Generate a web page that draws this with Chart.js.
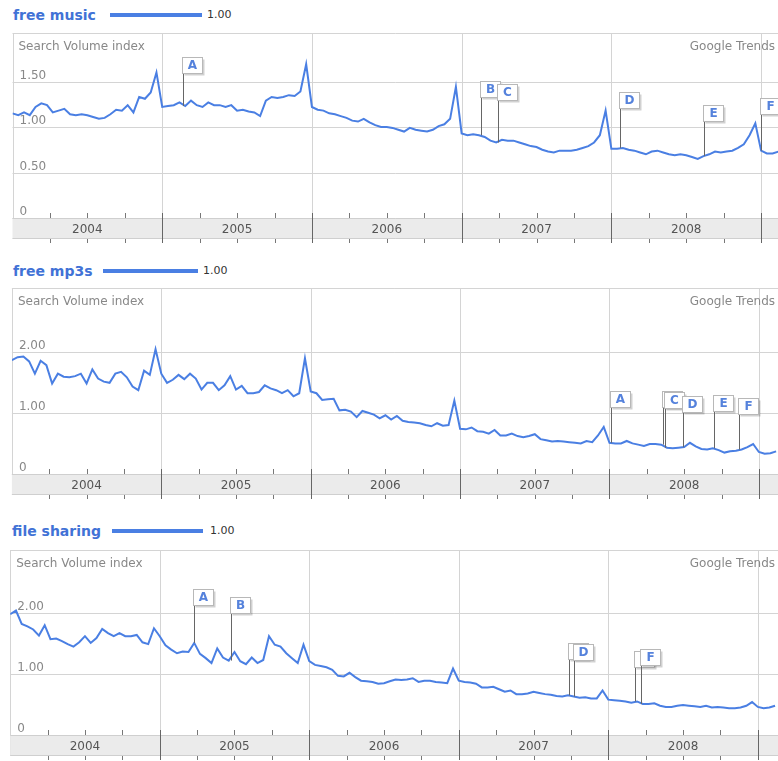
<!DOCTYPE html>
<html>
<head>
<meta charset="utf-8">
<script src="https://cdn.jsdelivr.net/npm/chart.js@4"></script>
<style>
  body { margin: 0; background: #fff; overflow: hidden; width: 778px; height: 761px; position: relative; }
  canvas { position: absolute; left: 0; }
  .title { position: absolute; font: bold 14px "DejaVu Sans", sans-serif; color: #4172d6; line-height: 16px; }
  .key { position: absolute; height: 4px; background: #4a7fe3; }
  .val { position: absolute; font: 11px "DejaVu Sans", sans-serif; color: #333; line-height: 12px; }
</style>
</head>
<body>
<div class="title" style="left:13px;top:7px">free music</div>
<div class="key" style="left:110px;top:13px;width:92px"></div>
<div class="val" style="left:207px;top:9px">1.00</div>
<canvas id="chart-music" width="778" height="214" style="top:31px"></canvas>

<div class="title" style="left:13px;top:263px">free mp3s</div>
<div class="key" style="left:103px;top:269px;width:95px"></div>
<div class="val" style="left:203px;top:265px">1.00</div>
<canvas id="chart-mp3s" width="778" height="215" style="top:286px"></canvas>

<div class="title" style="left:12px;top:523px">file sharing</div>
<div class="key" style="left:112px;top:529px;width:91px"></div>
<div class="val" style="left:210px;top:525px">1.00</div>
<canvas id="chart-sharing" width="778" height="214" style="top:548px"></canvas>

<script>
// Sample dates: one value every two weeks from Jan 2004
var sampleYears = [];
for (var i = 0; i < 134; i++) {
  sampleYears.push(2004 + i / 26);
}

var yearLabels = ["2004", "2005", "2006", "2007", "2008", "2009"];

// Search volume index
var freeMusic = [
  1.15, 1.13, 1.16, 1.13, 1.22, 1.26, 1.24, 1.16, 1.18, 1.20, 1.14, 1.13, 1.14, 1.13, 1.11, 1.09, 1.10, 1.14, 1.19, 1.18, 1.24, 1.16, 1.33, 1.31, 1.38, 1.60,
  1.22, 1.23, 1.24, 1.27, 1.23, 1.29, 1.24, 1.22, 1.27, 1.24, 1.24, 1.22, 1.24, 1.18, 1.19, 1.17, 1.16, 1.12, 1.29, 1.33, 1.32, 1.33, 1.35, 1.34, 1.39, 1.69,
  1.22, 1.19, 1.18, 1.15, 1.14, 1.12, 1.10, 1.07, 1.06, 1.09, 1.05, 1.02, 1.00, 1.00, 0.99, 0.97, 0.95, 0.99, 0.97, 0.96, 0.95, 0.97, 1.01, 1.03, 1.09, 1.44,
  0.93, 0.91, 0.92, 0.91, 0.89, 0.85, 0.83, 0.86, 0.85, 0.85, 0.83, 0.81, 0.79, 0.78, 0.75, 0.73, 0.72, 0.74, 0.74, 0.74, 0.75, 0.77, 0.79, 0.83, 0.91, 1.18,
  0.76, 0.76, 0.77, 0.75, 0.74, 0.72, 0.70, 0.73, 0.74, 0.72, 0.70, 0.69, 0.70, 0.69, 0.67, 0.65, 0.68, 0.70, 0.73, 0.72, 0.73, 0.74, 0.77, 0.81, 0.91, 1.04,
  0.74, 0.71, 0.71, 0.73
];
var freeMp3s = [
  1.86, 1.91, 1.92, 1.84, 1.64, 1.85, 1.78, 1.48, 1.64, 1.59, 1.58, 1.60, 1.64, 1.48, 1.71, 1.56, 1.51, 1.49, 1.64, 1.67, 1.58, 1.43, 1.37, 1.69, 1.62, 2.04,
  1.64, 1.49, 1.54, 1.62, 1.55, 1.64, 1.56, 1.38, 1.49, 1.49, 1.37, 1.45, 1.60, 1.38, 1.44, 1.32, 1.32, 1.34, 1.45, 1.40, 1.37, 1.32, 1.37, 1.27, 1.32, 1.89,
  1.35, 1.32, 1.21, 1.22, 1.23, 1.04, 1.05, 1.02, 0.93, 1.03, 1.00, 0.97, 0.91, 0.96, 0.89, 0.95, 0.87, 0.85, 0.84, 0.83, 0.80, 0.78, 0.83, 0.79, 0.80, 1.20,
  0.74, 0.73, 0.76, 0.70, 0.69, 0.66, 0.72, 0.63, 0.63, 0.66, 0.62, 0.60, 0.62, 0.65, 0.57, 0.55, 0.53, 0.54, 0.53, 0.52, 0.51, 0.50, 0.54, 0.52, 0.63, 0.77,
  0.51, 0.50, 0.50, 0.54, 0.50, 0.48, 0.46, 0.49, 0.49, 0.48, 0.43, 0.42, 0.43, 0.44, 0.51, 0.45, 0.41, 0.40, 0.42, 0.39, 0.35, 0.37, 0.38, 0.40, 0.44, 0.49,
  0.36, 0.33, 0.34, 0.37
];
var fileSharing = [
  1.98, 2.04, 1.82, 1.78, 1.73, 1.63, 1.80, 1.57, 1.58, 1.54, 1.49, 1.45, 1.52, 1.62, 1.51, 1.59, 1.74, 1.67, 1.62, 1.67, 1.62, 1.62, 1.64, 1.52, 1.49, 1.75,
  1.62, 1.47, 1.40, 1.34, 1.37, 1.36, 1.51, 1.33, 1.26, 1.18, 1.42, 1.27, 1.22, 1.36, 1.21, 1.16, 1.27, 1.18, 1.23, 1.62, 1.48, 1.45, 1.34, 1.26, 1.18, 1.48,
  1.21, 1.15, 1.13, 1.11, 1.07, 0.97, 0.96, 1.02, 0.95, 0.89, 0.88, 0.87, 0.84, 0.85, 0.88, 0.91, 0.90, 0.91, 0.93, 0.87, 0.89, 0.89, 0.87, 0.86, 0.85, 1.09,
  0.89, 0.87, 0.86, 0.84, 0.78, 0.78, 0.79, 0.75, 0.71, 0.73, 0.67, 0.67, 0.68, 0.71, 0.69, 0.67, 0.66, 0.64, 0.63, 0.65, 0.63, 0.61, 0.62, 0.60, 0.60, 0.73,
  0.58, 0.57, 0.56, 0.55, 0.53, 0.55, 0.51, 0.51, 0.52, 0.48, 0.46, 0.46, 0.48, 0.49, 0.48, 0.47, 0.46, 0.48, 0.45, 0.46, 0.45, 0.44, 0.44, 0.45, 0.48, 0.54,
  0.46, 0.44, 0.45, 0.48
];

// Y tick labels
var musicTicks = [0, 0.5, 1, 1.5];
var musicTickLabels = ["0", "0.50", "1.00", "1.50"];
var mp3Ticks = [0, 1, 2];
var mp3TickLabels = ["0", "1.00", "2.00"];

// News flags: letter, date, level of the box top (index units)
var flagLetters = ["A", "B", "C", "D", "E", "F"];
var musicFlagDates = [2005.141, 2007.13, 2007.241, 2008.058, 2008.621, 2008.998];
var musicFlagLevels = [1.77, 1.51, 1.47, 1.38, 1.24, 1.32];
var mp3FlagDates = [2008.01, 2008.356, 2008.37, 2008.49, 2008.70, 2008.87];
var mp3FlagLevels = [1.35, 1.35, 1.34, 1.27, 1.29, 1.24];
var sharingFlagDates = [2005.229, 2005.479, 2007.738, 2007.773, 2008.179, 2008.219];
var sharingFlagLevels = [2.39, 2.26, 1.51, 1.49, 1.38, 1.41];

var lineColor = "#4a7fe3";

function hLine(ctx, x1, x2, y) {
  ctx.beginPath();
  ctx.moveTo(x1, y);
  ctx.lineTo(x2, y);
  ctx.stroke();
}
function vLine(ctx, x, y1, y2) {
  ctx.beginPath();
  ctx.moveTo(x, y1);
  ctx.lineTo(x, y2);
  ctx.stroke();
}

// Plugin drawing the Google Trends frame: grid, labels, year band and flags
function trendsFrame(cfg) {
  return {
    id: "trendsFrame",
    beforeDatasetsDraw: function (chart) {
      var ctx = chart.ctx;
      var a = chart.chartArea;
      var xs = chart.scales.x;
      var ys = chart.scales.y;
      var bandH = 21;
      ctx.save();
      ctx.lineWidth = 1;
      ctx.strokeStyle = "#d4d4d4";

      // horizontal grid
      cfg.ticks.forEach(function (v) {
        var py = Math.round(ys.getPixelForValue(v)) + 0.5;
        hLine(ctx, a.left, a.right, py);
      });
      // top and left border
      hLine(ctx, a.left, a.right, Math.round(a.top) + 0.5);
      vLine(ctx, Math.round(a.left) + 0.5, a.top, a.bottom + bandH);
      // year grid lines
      for (var yr = 2005; yr <= 2009; yr++) {
        var gx = Math.round(xs.getPixelForValue(yr)) + 0.5;
        vLine(ctx, gx, a.top, a.bottom);
      }

      // year band
      ctx.fillStyle = "#ebebeb";
      ctx.fillRect(a.left, a.bottom, a.right - a.left, bandH);
      ctx.strokeStyle = "#cfcfcf";
      hLine(ctx, a.left, a.right, Math.round(a.bottom) + 0.5);
      hLine(ctx, a.left, a.right, Math.round(a.bottom + bandH) - 0.5);

      ctx.strokeStyle = "#777";
      for (var y2 = 2004; y2 <= 2009; y2++) {
        for (var q = 1; q < 4; q++) {
          var qx = Math.round(xs.getPixelForValue(y2 + q / 4)) + 0.5;
          vLine(ctx, qx, a.bottom - 5, a.bottom);
          vLine(ctx, qx, a.bottom + bandH, a.bottom + bandH + 4);
        }
        if (y2 > 2004) {
          var yx = Math.round(xs.getPixelForValue(y2)) + 0.5;
          ctx.strokeStyle = "#666";
          vLine(ctx, yx, a.bottom - 5, a.bottom + bandH + 4);
          ctx.strokeStyle = "#777";
        }
      }
      ctx.fillStyle = "#555";
      ctx.font = '12px "DejaVu Sans", sans-serif';
      ctx.textAlign = "center";
      ctx.textBaseline = "middle";
      yearLabels.forEach(function (label, k) {
        ctx.fillText(label, xs.getPixelForValue(2004 + k + 0.5), a.bottom + bandH / 2 + 1);
      });

      // y labels and corner texts
      ctx.fillStyle = "#888";
      ctx.textAlign = "left";
      ctx.textBaseline = "alphabetic";
      cfg.ticks.forEach(function (v, k) {
        ctx.fillText(cfg.tickLabels[k], a.left + 7, ys.getPixelForValue(v) - 3);
      });
      ctx.fillText("Search Volume index", a.left + 6, a.top + 17);
      ctx.textAlign = "right";
      ctx.fillText("Google Trends", a.right - 3, a.top + 17);
      ctx.restore();
    },
    afterDatasetsDraw: function (chart) {
      var ctx = chart.ctx;
      var xs = chart.scales.x;
      var ys = chart.scales.y;
      ctx.save();
      ctx.lineWidth = 1;
      ctx.font = 'bold 12px "DejaVu Sans", sans-serif';
      ctx.textAlign = "center";
      ctx.textBaseline = "middle";
      cfg.flagDates.forEach(function (date, k) {
        var px = Math.round(xs.getPixelForValue(date)) + 0.5;
        var idx = Math.round((date - 2004) * 26);
        var py = ys.getPixelForValue(cfg.values[idx]);
        var top = Math.round(ys.getPixelForValue(cfg.flagLevels[k])) + 0.5;
        ctx.strokeStyle = "#666";
        vLine(ctx, px, top + 16, py);
        ctx.fillStyle = "rgba(0,0,0,0.18)";
        ctx.fillRect(px + 1, top + 2, 20, 16);
        ctx.fillStyle = "#fff";
        ctx.fillRect(px - 1, top, 20, 16);
        ctx.strokeStyle = "#b8b8b8";
        ctx.strokeRect(px - 1, top, 20, 16);
        ctx.fillStyle = "#5582dc";
        ctx.fillText(flagLetters[k], px + 9, top + 8.5);
      });
      ctx.restore();
    }
  };
}

function makePanel(canvasId, values, cfg) {
  var points = values.map(function (v, i) {
    return { x: sampleYears[i], y: v };
  });
  cfg.values = values;
  var ctx = document.getElementById(canvasId).getContext("2d");
  return new Chart(ctx, {
    type: "line",
    data: {
      datasets: [
        {
          data: points,
          borderColor: lineColor,
          borderWidth: 2,
          pointRadius: 0,
          tension: 0,
          fill: false,
        },
      ],
    },
    options: {
      responsive: false,
      animation: false,
      events: [],
      layout: { padding: { left: cfg.left, right: 0, top: 2, bottom: 27 } },
      scales: {
        x: { type: "linear", min: 2004, max: cfg.xMax, display: false },
        y: { type: "linear", min: 0, max: cfg.yMax, display: false },
      },
      plugins: { legend: { display: false }, tooltip: { enabled: false } },
    },
    plugins: [trendsFrame(cfg)],
  });
}

makePanel("chart-music", freeMusic, {
  left: 12.5, xMax: 2009.113, yMax: 2.033,
  ticks: musicTicks, tickLabels: musicTickLabels,
  flagDates: musicFlagDates, flagLevels: musicFlagLevels,
});
makePanel("chart-mp3s", freeMp3s, {
  left: 11.9, xMax: 2009.128, yMax: 3.04,
  ticks: mp3Ticks, tickLabels: mp3TickLabels,
  flagDates: mp3FlagDates, flagLevels: mp3FlagLevels,
});
makePanel("chart-sharing", fileSharing, {
  left: 10.2, xMax: 2009.135, yMax: 3.033,
  ticks: mp3Ticks, tickLabels: mp3TickLabels,
  flagDates: sharingFlagDates, flagLevels: sharingFlagLevels,
});
</script>
</body>
</html>
